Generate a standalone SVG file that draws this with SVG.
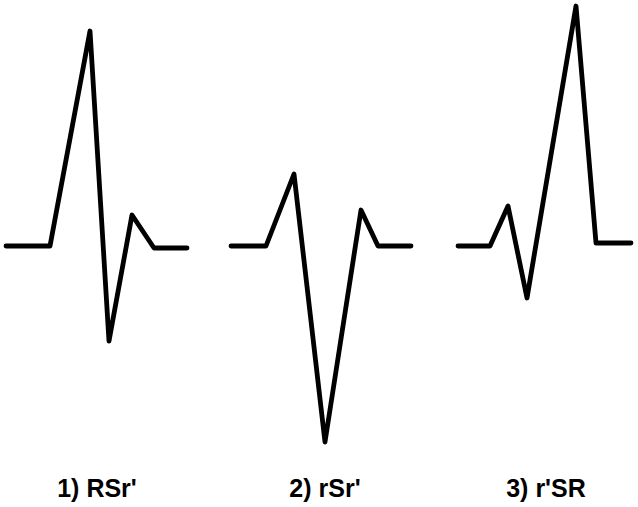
<svg xmlns="http://www.w3.org/2000/svg" width="638" height="507" viewBox="0 0 638 507">
<style>
.w{fill:none;stroke:#000;stroke-width:4.8;stroke-linejoin:round;stroke-linecap:round}
.t{font-family:"Liberation Sans",Arial,sans-serif;font-weight:bold;font-size:25px;fill:#000;text-anchor:middle}
</style>
<rect width="638" height="507" fill="#fff"/>
<g id="wave1">
<polyline class="w" points="6,246 50,246 90,31 109,341 132,215 154,248 187,248"/>
<text class="t" x="97" y="497">1) RSr'</text>
</g>
<g id="wave2">
<polyline class="w" points="231,246 266,246 294,174 325,442 361,210 378,246 411,246"/>
<text class="t" x="325" y="497">2) rSr'</text>
</g>
<g id="wave3">
<polyline class="w" points="458,246 490,246 508,206 527,298 576,6 596,243 631,243"/>
<text class="t" x="546" y="497">3) r'SR</text>
</g>
</svg>
